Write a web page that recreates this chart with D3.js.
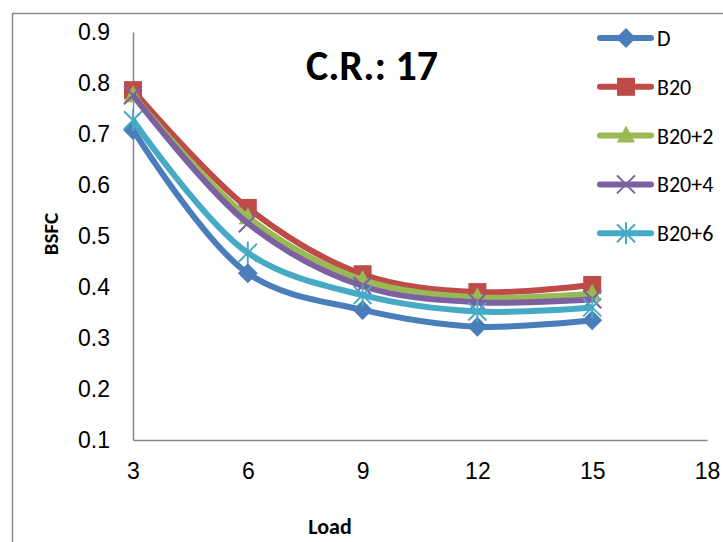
<!DOCTYPE html>
<html lang="en">
<head>
<meta charset="UTF-8">
<title>BSFC vs Load</title>
<script src="https://cdn.jsdelivr.net/npm/d3@7"></script>
<style>
  body { margin: 0; background: #fff; }
  svg { display: block; font-family: Carlito, Lato, "Open Sans", sans-serif; }
  .tick text { font-size: 23px; fill: #000; }
</style>
</head>
<body>
<script>
// values
var loads = [3, 6, 9, 12, 15];
var xTicks = [3, 6, 9, 12, 15, 18];
var yTicks = [0.1, 0.2, 0.3, 0.4, 0.5, 0.6, 0.7, 0.8, 0.9];
var seriesNames = ["D", "B20", "B20+2", "B20+4", "B20+6"];
var dVals    = [0.708, 0.427, 0.355, 0.322, 0.335];
var b20Vals  = [0.786, 0.555, 0.425, 0.39, 0.404];
var b202Vals = [0.776, 0.537, 0.414, 0.38, 0.387];
var b204Vals = [0.776, 0.525, 0.402, 0.37, 0.376];
var b206Vals = [0.727, 0.467, 0.384, 0.352, 0.36];

var colors = ["#4a7ebb", "#be4b48", "#98b954", "#7d60a0", "#46aac5"];
var symbols = ["diamond", "square", "triangle", "x", "star"];
var allVals = [dVals, b20Vals, b202Vals, b204Vals, b206Vals];

var W = 723, H = 542;
var svg = d3.select("body").append("svg").attr("width", W).attr("height", H);

// outer chart border (cut by the page edge)
svg.append("path")
  .attr("d", "M12.5," + H + "V13.5H" + W)
  .attr("fill", "none").attr("stroke", "#8c8c8c").attr("stroke-width", 1.5);

var x = d3.scaleLinear().domain([3, 18]).range([133, 707]);
var y = d3.scaleLinear().domain([0.1, 0.9]).range([440, 32]);

var gx = svg.append("g").attr("transform", "translate(0,440)")
  .call(d3.axisBottom(x).tickValues(xTicks).tickSize(0).tickPadding(23).tickFormat(d3.format("d")));
gx.select(".domain").attr("stroke", "#868686").attr("stroke-width", 1.5);

var gy = svg.append("g").attr("transform", "translate(133,0)")
  .call(d3.axisLeft(y).tickValues(yTicks).tickSize(0).tickPadding(23).tickFormat(d3.format(".1f")));
gy.select(".domain").attr("stroke", "#868686").attr("stroke-width", 1.5);

// title and axis names
svg.append("text").attr("x", 372).attr("y", 80).attr("text-anchor", "middle")
  .style("font-size", "42px").style("font-weight", "bold").text("C.R.: 17");
svg.append("text").attr("transform", "translate(58,234) rotate(-90)")
  .attr("text-anchor", "middle").style("font-size", "21px").style("font-weight", "bold").text("BSFC");
svg.append("text").attr("x", 330).attr("y", 534).attr("text-anchor", "middle")
  .style("font-size", "22px").style("font-weight", "bold").text("Load");

function marker(sel, kind, color) {
  if (kind === "diamond") {
    sel.append("path").attr("d", "M0,-10L10,0L0,10L-10,0Z").attr("fill", color);
  } else if (kind === "square") {
    sel.append("rect").attr("x", -9).attr("y", -9).attr("width", 18).attr("height", 18).attr("fill", color);
  } else if (kind === "triangle") {
    sel.append("path").attr("d", "M0,-10L9,7L-9,7Z").attr("fill", color);
  } else if (kind === "x") {
    sel.append("path").attr("d", "M-9,-9L9,9M-9,9L9,-9").attr("stroke", color).attr("stroke-width", 2);
  } else {
    sel.append("path").attr("d", "M-9,-9L9,9M-9,9L9,-9M0,-11V11").attr("stroke", color).attr("stroke-width", 2);
  }
}

var line = d3.line()
  .x(function(d, i) { return x(loads[i]); })
  .y(function(d) { return y(d); })
  .curve(d3.curveCatmullRom.alpha(0.5));

allVals.forEach(function(vals, s) {
  svg.append("path").datum(vals)
    .attr("d", line)
    .attr("fill", "none")
    .attr("stroke", colors[s])
    .attr("stroke-width", 6)
    .attr("stroke-linejoin", "round");
  vals.forEach(function(v, i) {
    var g = svg.append("g").attr("transform", "translate(" + x(loads[i]) + "," + y(v) + ")");
    marker(g, symbols[s], colors[s]);
  });
});

// legend
var legend = svg.selectAll(".legend").data(seriesNames).enter().append("g")
  .attr("class", "legend")
  .attr("transform", function(d, i) { return "translate(0," + (38 + i * 48.8) + ")"; });
legend.append("line").attr("x1", 600).attr("x2", 651)
  .attr("stroke", function(d, i) { return colors[i]; })
  .attr("stroke-width", 6).attr("stroke-linecap", "round");
legend.each(function(d, i) {
  var g = d3.select(this).append("g").attr("transform", "translate(626,0)");
  marker(g, symbols[i], colors[i]);
});
legend.append("text").attr("x", 657).attr("y", 8).style("font-size", "22px").text(function(d) { return d; });
</script>
</body>
</html>
